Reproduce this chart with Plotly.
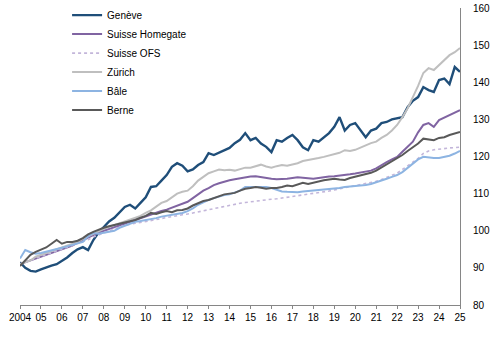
import numpy as np
import plotly.graph_objects as go

# Quarterly index values, 2004 Q1 .. 2025 Q1 (85 points)
start_year = 2004
geneve = [
    91.5, 90.0, 89.2, 89.0,
    89.6, 90.2, 90.6, 91.0,
    91.8, 92.8, 94.0, 95.0,
    95.6, 94.8, 97.5, 99.5,
    101.0, 102.5, 103.5, 105.0,
    106.4, 107.0, 106.0, 107.5,
    109.0, 111.8, 112.0, 113.5,
    115.0, 117.2, 118.2, 117.5,
    116.0, 116.5, 117.7, 118.5,
    120.9, 120.4, 121.0, 121.5,
    122.3, 123.6, 124.5, 126.3,
    124.4, 125.0, 123.5, 122.6,
    121.2, 124.4, 124.0, 125.0,
    125.8, 124.4, 122.5, 121.7,
    124.4, 124.0, 125.2, 126.3,
    128.0, 130.6, 127.0, 128.5,
    129.0, 127.0, 125.2, 127.0,
    127.5, 129.0, 129.3, 130.0,
    130.4, 130.6, 133.3, 135.0,
    136.0, 138.7, 137.9, 137.4,
    140.6, 141.0, 139.5, 144.1,
    142.8,
]
homegate = [
    91.0, 91.5, 92.0, 92.5,
    93.0, 93.5, 94.0, 94.5,
    95.0, 95.5, 96.0, 96.8,
    97.5, 98.0, 98.8, 99.5,
    100.0, 100.5, 101.0, 101.5,
    102.0, 102.5, 103.0, 103.5,
    104.0, 104.5, 105.0, 105.3,
    105.7, 106.2, 106.8, 107.3,
    107.8, 108.8, 109.8, 110.8,
    111.5, 112.3, 112.8, 113.3,
    113.6, 113.9, 114.2, 114.5,
    114.6, 114.7, 114.4, 114.2,
    114.0, 113.9, 113.9, 114.0,
    114.2, 114.4, 114.3, 114.1,
    114.0, 114.2, 114.5, 114.6,
    114.7, 114.8, 115.0, 115.2,
    115.4, 115.6, 115.8, 116.2,
    116.8, 117.7, 118.5, 119.2,
    119.9, 121.3, 122.6, 124.0,
    126.5, 128.5, 129.0, 128.0,
    129.8, 130.5, 131.3, 132.0,
    132.5,
]
ofs = [
    91.0, 91.5, 92.0, 92.5,
    93.0, 93.5, 94.0, 94.5,
    95.0, 95.5, 96.0, 96.5,
    97.0, 97.6, 98.3, 98.9,
    99.5, 100.0, 100.5, 101.0,
    101.5, 101.8, 102.0, 102.3,
    102.5, 102.8, 103.0, 103.3,
    103.5, 103.8, 104.1, 104.3,
    104.5, 104.8, 105.1, 105.5,
    105.8, 106.1, 106.4, 106.7,
    107.0, 107.2, 107.4, 107.6,
    107.8, 108.0, 108.2, 108.3,
    108.5, 108.6, 108.8, 109.0,
    109.2, 109.4, 109.6, 109.8,
    110.0, 110.2, 110.4, 110.7,
    111.0, 111.3, 111.6, 111.8,
    112.0, 112.3, 112.7, 113.0,
    113.3, 113.8, 114.3, 114.9,
    115.5, 116.5, 117.5, 118.5,
    119.5, 120.8, 121.5, 121.8,
    122.0, 122.2, 122.3, 122.4,
    122.5,
]
zurich = [
    91.0, 91.5, 92.0, 93.0,
    93.5, 94.0, 94.5, 95.0,
    95.5, 96.0, 96.5, 97.0,
    97.8, 98.5, 99.0, 99.8,
    100.5, 101.0, 101.5, 102.0,
    102.5, 103.0, 103.5, 104.0,
    104.8, 105.5, 106.5, 107.5,
    108.0, 109.0, 110.0, 110.5,
    110.8, 112.0, 113.5, 114.5,
    115.5, 116.0, 116.5, 116.3,
    116.4, 116.2, 116.6, 117.0,
    117.0, 117.5, 117.8, 117.3,
    117.0, 117.4, 117.7, 117.5,
    117.8, 118.2, 118.8, 119.0,
    119.3, 119.6, 119.9, 120.3,
    120.5, 121.0, 121.7, 121.5,
    121.8, 122.5, 123.0, 123.6,
    124.0, 125.0, 125.8, 127.0,
    128.5, 130.6, 133.0, 136.0,
    139.0, 142.5, 143.8, 143.3,
    144.6, 146.0, 147.3, 148.1,
    149.2,
]
bale = [
    92.5, 94.8, 94.2, 93.8,
    94.0, 94.3, 94.6, 95.0,
    95.4, 95.8, 96.2, 96.6,
    97.0, 98.5, 99.4, 99.2,
    99.5, 99.7, 100.0, 100.8,
    101.3, 102.0, 102.4, 102.6,
    102.8, 103.2, 103.4, 103.8,
    104.0, 104.3, 104.6, 104.8,
    105.3, 106.0, 107.0, 107.7,
    108.3, 108.8, 109.3, 109.6,
    109.8, 110.2, 110.8, 111.8,
    111.8, 112.0, 111.8, 111.8,
    111.5, 111.0, 110.6, 110.5,
    110.4, 110.4, 110.6, 110.7,
    110.8, 110.9, 111.0, 111.2,
    111.3, 111.5, 111.8, 111.9,
    112.0, 112.2, 112.3, 112.6,
    113.0, 113.5, 114.0, 114.5,
    115.0, 115.8, 117.0, 118.2,
    119.2, 119.9, 119.7, 119.6,
    119.6, 119.8, 120.2, 120.8,
    121.5,
]
berne = [
    90.5, 92.0, 93.5, 94.3,
    94.8, 95.5, 96.5, 97.5,
    96.5, 97.0, 97.0, 97.3,
    98.0, 99.0, 99.7, 100.3,
    100.8, 101.2, 101.5, 101.8,
    102.2, 102.5, 102.9, 103.5,
    104.0, 104.8, 104.5, 105.0,
    105.3, 105.0, 105.5, 105.6,
    106.0, 106.8, 107.5, 108.0,
    108.3, 108.8, 109.3, 109.8,
    110.0, 110.2, 110.8, 111.3,
    111.5, 111.8, 111.6, 111.3,
    111.5, 111.5, 111.8, 112.2,
    112.0, 112.5, 112.9, 112.6,
    113.0, 113.3, 113.6, 113.8,
    114.0, 113.8, 113.7, 114.2,
    114.5, 114.8, 115.3, 115.6,
    116.2, 117.0, 117.8, 118.7,
    119.5, 120.4, 121.5, 122.5,
    123.5, 124.8, 124.6, 124.4,
    125.0, 125.2, 125.8, 126.2,
    126.6,
]

tick_years = list(range(2004, 2026))
tick_labels = ["2004"] + [f"{y % 100:02d}" for y in tick_years[1:]]
y_ticks = [80, 90, 100, 110, 120, 130, 140, 150, 160]

x = start_year + np.arange(len(geneve)) * 0.25

series = [
    ("Genève", geneve, "#1F4E79", 2.4, "solid"),
    ("Suisse Homegate", homegate, "#8064A2", 2.0, "solid"),
    ("Suisse OFS", ofs, "#C3B6DA", 1.6, "dot"),
    ("Zürich", zurich, "#BFBFBF", 2.0, "solid"),
    ("Bâle", bale, "#8DB4E2", 2.0, "solid"),
    ("Berne", berne, "#595959", 2.0, "solid"),
]

fig = go.Figure()
for name, vals, color, w, dash in series:
    fig.add_trace(go.Scatter(
        x=x, y=vals, mode="lines", name=name,
        line=dict(color=color, width=w, dash=dash),
    ))

font = dict(family="Liberation Sans, Arial, sans-serif", size=10, color="#000000")

# margin top 0; plot area top placed at 8 px through the y-axis domain
height = 341
m_top, m_bot = 0, 36
plot_h = height - m_top - m_bot
y_dom_top = (plot_h - 8) / plot_h

fig.update_layout(
    width=491, height=height,
    margin=dict(l=20, r=31, t=m_top, b=m_bot),
    paper_bgcolor="white", plot_bgcolor="white",
    font=font,
    showlegend=True,
    legend=dict(
        x=0.107, y=0.998, xanchor="left", yanchor="top",
        bgcolor="rgba(0,0,0,0)", font=font,
        tracegroupgap=0,
    ),
    xaxis=dict(
        range=[2004, 2025], automargin=False,
        tickmode="array", tickvals=tick_years, ticktext=tick_labels,
        showline=True, linecolor="#868686", linewidth=1,
        ticks="outside", ticklen=3, tickcolor="#868686",
        showgrid=False, zeroline=False,
    ),
    yaxis=dict(
        range=[80, 160], side="right", automargin=False,
        domain=[0, y_dom_top],
        tickmode="array", tickvals=y_ticks,
        showline=True, linecolor="#868686", linewidth=1,
        ticks="outside", ticklen=10, tickcolor="rgba(0,0,0,0)",
        showgrid=False, zeroline=False,
    ),
)

fig.write_html("out.html")
